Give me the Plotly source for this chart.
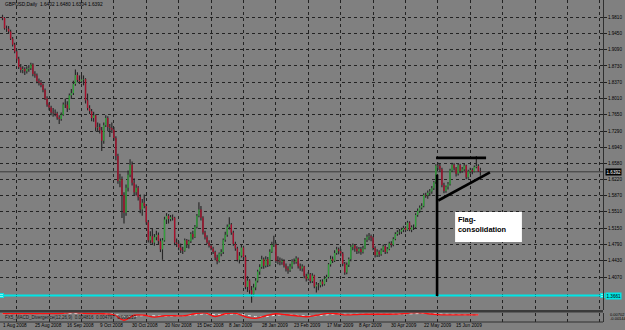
import plotly.graph_objects as go

# ---------------- data ----------------
OPEN = [
1.9810,1.9790,1.9560,1.9550,1.9490,1.9330,1.9200,1.9050,1.8890,1.8700,
1.8640,1.8660,1.8610,1.8660,1.8680,1.8760,1.8550,1.8520,1.8390,1.8360,
1.8310,1.8200,1.8010,1.7870,1.7810,1.7700,1.7690,1.7680,1.7590,1.7560,
1.7650,1.7880,1.7870,1.7790,1.8080,1.8130,1.8330,1.8530,1.8420,1.8390,
1.8430,1.8440,1.7970,1.7800,1.7730,1.7580,1.7640,1.7370,1.7380,1.7310,
1.7080,1.7420,1.7580,1.7380,1.7360,1.7320,1.7140,1.6740,1.6190,1.6230,
1.5880,1.5490,1.6040,1.6330,1.6550,1.6150,1.5940,1.6040,1.5830,1.5560,
1.5710,1.5640,1.5280,1.4880,1.4970,1.4830,1.4950,1.5000,1.4860,1.4680,
1.4880,1.5340,1.5420,1.5350,1.5390,1.5380,1.4830,1.4800,1.4720,1.4660,
1.4650,1.4880,1.4790,1.4860,1.5020,1.4950,1.5180,1.5420,1.5560,1.5380,
1.5050,1.4950,1.4830,1.4760,1.4700,1.4620,1.4500,1.4420,1.4590,1.4620,
1.4890,1.5000,1.5180,1.5230,1.5050,1.4800,1.4700,1.4450,1.4540,1.4720,
1.4510,1.3850,1.3990,1.3780,1.3690,1.3840,1.3990,1.4190,1.4290,1.4460,
1.4320,1.4460,1.4340,1.4630,1.4780,1.4790,1.4430,1.4420,1.4400,1.4430,
1.4320,1.4250,1.4220,1.4300,1.4410,1.4400,1.4480,1.4310,1.4260,1.4300,
1.4090,1.4030,1.4130,1.3980,1.4100,1.3860,1.3900,1.3890,1.3970,1.3910,
1.4030,1.4070,1.4350,1.4470,1.4430,1.4600,1.4680,1.4640,1.4590,1.4360,
1.4170,1.4340,1.4460,1.4740,1.4770,1.4700,1.4640,1.4690,1.4620,1.4700,
1.4890,1.4960,1.4970,1.4940,1.4710,1.4550,1.4630,1.4570,1.4660,1.4750,
1.4620,1.4690,1.4810,1.4780,1.4910,1.5020,1.5060,1.5070,1.5110,1.5150,
1.5110,1.5270,1.5110,1.5170,1.5170,1.5440,1.5530,1.5600,1.5640,1.5880,
1.5870,1.5930,1.5960,1.6030,1.6160,1.6530,1.6520,1.6450,1.6100,1.5970,
1.6060,1.6120,1.6420,1.6550,1.6470,1.6350,1.6540,1.6410,1.6450,1.6530,
1.6270,1.6400,1.6430,1.6400,1.6500,1.6520,1.6402]

HIGH = [
1.9860,1.9810,1.9620,1.9610,1.9530,1.9370,1.9240,1.9100,1.8930,1.8770,
1.8720,1.8700,1.8720,1.8750,1.8800,1.8790,1.8610,1.8560,1.8450,1.8420,
1.8340,1.8230,1.8060,1.7920,1.7850,1.7800,1.7770,1.7720,1.7640,1.7700,
1.7920,1.8010,1.7950,1.8120,1.8220,1.8400,1.8650,1.8590,1.8520,1.8530,
1.8520,1.8460,1.8120,1.7860,1.7780,1.7720,1.7660,1.7480,1.7460,1.7380,
1.7480,1.7640,1.7620,1.7450,1.7480,1.7380,1.7180,1.6790,1.6350,1.6290,
1.5940,1.6110,1.6420,1.6670,1.6620,1.6250,1.6110,1.6080,1.5890,1.5790,
1.5890,1.5680,1.5330,1.5080,1.5130,1.5020,1.5090,1.5050,1.4920,1.4930,
1.5400,1.5480,1.5460,1.5440,1.5450,1.5400,1.4920,1.4860,1.4810,1.4740,
1.4920,1.4910,1.4890,1.5060,1.5090,1.5220,1.5460,1.5720,1.5640,1.5410,
1.5090,1.4990,1.4880,1.4800,1.4740,1.4650,1.4560,1.4610,1.4680,1.4920,
1.5070,1.5230,1.5390,1.5260,1.5090,1.4850,1.4740,1.4620,1.4790,1.4760,
1.4550,1.4090,1.4020,1.3870,1.3920,1.4050,1.4230,1.4350,1.4540,1.4500,
1.4530,1.4510,1.4680,1.4850,1.4980,1.4830,1.4530,1.4500,1.4480,1.4460,
1.4370,1.4310,1.4360,1.4460,1.4480,1.4530,1.4500,1.4370,1.4350,1.4320,
1.4140,1.4180,1.4160,1.4150,1.4120,1.3960,1.3940,1.4010,1.4020,1.4090,
1.4120,1.4380,1.4540,1.4520,1.4660,1.4740,1.4720,1.4690,1.4620,1.4400,
1.4390,1.4500,1.4780,1.4810,1.4800,1.4750,1.4730,1.4730,1.4760,1.4930,
1.5010,1.5040,1.5010,1.4970,1.4750,1.4680,1.4660,1.4700,1.4790,1.4770,
1.4730,1.4850,1.4860,1.4950,1.5060,1.5100,1.5130,1.5160,1.5200,1.5190,
1.5310,1.5300,1.5210,1.5230,1.5480,1.5580,1.5650,1.5700,1.5920,1.5930,
1.5980,1.6010,1.6080,1.6190,1.6560,1.6600,1.6570,1.6480,1.6150,1.6090,
1.6170,1.6460,1.6590,1.6580,1.6500,1.6580,1.6570,1.6500,1.6580,1.6550,
1.6440,1.6480,1.6470,1.6530,1.6740,1.6560,1.6480]

LOW = [
1.9740,1.9530,1.9480,1.9450,1.9300,1.9160,1.9010,1.8850,1.8660,1.8580,
1.8570,1.8530,1.8560,1.8600,1.8640,1.8500,1.8470,1.8350,1.8300,1.8260,
1.8150,1.7980,1.7830,1.7750,1.7640,1.7610,1.7620,1.7540,1.7450,1.7520,
1.7630,1.7800,1.7710,1.7760,1.8000,1.8090,1.8290,1.8370,1.8330,1.8350,
1.8300,1.7900,1.7750,1.7670,1.7510,1.7500,1.7290,1.7280,1.7240,1.6850,
1.7010,1.7380,1.7290,1.7160,1.7250,1.7080,1.6650,1.6130,1.6050,1.5370,
1.5250,1.5420,1.5960,1.6270,1.6090,1.5880,1.5870,1.5760,1.5480,1.5420,
1.5590,1.5230,1.4830,1.4810,1.4780,1.4760,1.4880,1.4790,1.4620,1.4450,
1.4850,1.5240,1.5250,1.5300,1.5320,1.4770,1.4730,1.4660,1.4600,1.4580,
1.4630,1.4710,1.4700,1.4820,1.4900,1.4930,1.5140,1.5390,1.5320,1.5010,
1.4900,1.4800,1.4720,1.4660,1.4580,1.4440,1.4350,1.4390,1.4530,1.4580,
1.4850,1.4960,1.5120,1.5000,1.4760,1.4650,1.4410,1.4370,1.4500,1.4460,
1.3800,1.3740,1.3700,1.3500,1.3640,1.3780,1.3950,1.4120,1.4250,1.4250,
1.4280,1.4290,1.4310,1.4600,1.4730,1.4380,1.4350,1.4330,1.4340,1.4280,
1.4190,1.4140,1.4180,1.4250,1.4350,1.4360,1.4260,1.4210,1.4190,1.4040,
1.3970,1.3990,1.3930,1.3940,1.3820,1.3730,1.3780,1.3840,1.3860,1.3880,
1.3960,1.4040,1.4300,1.4380,1.4400,1.4560,1.4570,1.4530,1.4310,1.4120,
1.4130,1.4290,1.4420,1.4660,1.4630,1.4580,1.4590,1.4560,1.4590,1.4680,
1.4840,1.4880,1.4860,1.4660,1.4500,1.4510,1.4510,1.4540,1.4620,1.4580,
1.4590,1.4660,1.4720,1.4750,1.4880,1.4980,1.5000,1.5020,1.5060,1.5060,
1.5090,1.5080,1.5060,1.5110,1.5150,1.5400,1.5490,1.5560,1.5610,1.5820,
1.5800,1.5860,1.5910,1.5990,1.6130,1.6430,1.6390,1.6050,1.5920,1.5930,
1.6000,1.6090,1.6390,1.6420,1.6290,1.6310,1.6360,1.6370,1.6410,1.6230,
1.6240,1.6350,1.6340,1.6380,1.6470,1.6390,1.6304]

CLOSE = [
1.9790,1.9560,1.9550,1.9490,1.9330,1.9200,1.9050,1.8890,1.8700,1.8640,
1.8660,1.8610,1.8660,1.8680,1.8760,1.8550,1.8520,1.8390,1.8360,1.8310,
1.8200,1.8010,1.7870,1.7810,1.7700,1.7690,1.7680,1.7590,1.7560,1.7650,
1.7880,1.7870,1.7790,1.8080,1.8130,1.8330,1.8530,1.8420,1.8390,1.8430,
1.8440,1.7970,1.7800,1.7730,1.7580,1.7640,1.7370,1.7380,1.7310,1.7080,
1.7420,1.7580,1.7380,1.7360,1.7320,1.7140,1.6740,1.6190,1.6230,1.5880,
1.5490,1.6040,1.6330,1.6550,1.6150,1.5940,1.6040,1.5830,1.5560,1.5710,
1.5640,1.5280,1.4880,1.4970,1.4830,1.4950,1.5000,1.4860,1.4680,1.4880,
1.5340,1.5420,1.5350,1.5390,1.5380,1.4830,1.4800,1.4720,1.4660,1.4650,
1.4880,1.4790,1.4860,1.5020,1.4950,1.5180,1.5420,1.5560,1.5380,1.5050,
1.4950,1.4830,1.4760,1.4700,1.4620,1.4500,1.4420,1.4590,1.4620,1.4890,
1.5000,1.5180,1.5230,1.5050,1.4800,1.4700,1.4450,1.4540,1.4720,1.4510,
1.3850,1.3990,1.3780,1.3690,1.3840,1.3990,1.4190,1.4290,1.4460,1.4320,
1.4460,1.4340,1.4630,1.4780,1.4790,1.4430,1.4420,1.4400,1.4430,1.4320,
1.4250,1.4220,1.4300,1.4410,1.4400,1.4480,1.4310,1.4260,1.4300,1.4090,
1.4030,1.4130,1.3980,1.4100,1.3860,1.3900,1.3890,1.3970,1.3910,1.4030,
1.4070,1.4350,1.4470,1.4430,1.4600,1.4680,1.4640,1.4590,1.4360,1.4170,
1.4340,1.4460,1.4740,1.4770,1.4700,1.4640,1.4690,1.4620,1.4700,1.4890,
1.4960,1.4970,1.4940,1.4710,1.4550,1.4630,1.4570,1.4660,1.4750,1.4620,
1.4690,1.4810,1.4780,1.4910,1.5020,1.5060,1.5070,1.5110,1.5150,1.5110,
1.5270,1.5110,1.5170,1.5170,1.5440,1.5530,1.5600,1.5640,1.5880,1.5870,
1.5930,1.5960,1.6030,1.6160,1.6530,1.6520,1.6450,1.6100,1.5970,1.6060,
1.6120,1.6420,1.6550,1.6470,1.6350,1.6540,1.6410,1.6450,1.6530,1.6270,
1.6400,1.6430,1.6400,1.6500,1.6520,1.6402,1.6392]

DATE_LABELS = ["1 Aug 2008", "25 Aug 2008", "16 Sep 2008", "9 Oct 2008",
               "30 Oct 2008", "20 Nov 2008", "15 Dec 2008", "8 Jan 2009",
               "28 Jan 2009", "23 Feb 2009", "17 Mar 2009", "8 Apr 2009",
               "30 Apr 2009", "22 May 2009", "15 Jun 2009"]
BARS_PER_LABEL = 16

PRICE_TICKS = [1.9810, 1.9450, 1.9090, 1.8730, 1.8370, 1.8010, 1.7650, 1.7290,
               1.6940, 1.6580, 1.6220, 1.5870, 1.5510, 1.5150, 1.4790, 1.4430,
               1.4070, 1.3340]

# oscillator sub-window (sampled every 5 bars)
OSC_STEP = 5
OSC_MAIN = [0.0074,0.0074,0.0074,0.0074,0.0074,0.0074,0.0080,0.0096,0.0080,0.0072,
            0.0070,0.0050,-0.0060,0.0040,0.0040,0.0004,0.0030,0.0030,0.0030,0.0070,
            0.0088,0.0014,0.0070,0.0080,0.0010,-0.0024,0.0030,0.0070,0.0050,0.0030,
            0.0010,0.0040,0.0074,0.0070,0.0048,0.0054,0.0060,0.0060,0.0060,0.0064,
            0.0080,0.0094,0.0070,0.0054,0.0048,0.0048,0.0048,0.0048]
OSC_SIGNAL = [0.0070,0.0072,0.0073,0.0073,0.0073,0.0073,0.0075,0.0082,0.0085,0.0078,
              0.0072,0.0062,0.0020,0.0018,0.0035,0.0025,0.0022,0.0028,0.0030,0.0048,
              0.0070,0.0050,0.0055,0.0068,0.0045,0.0012,0.0010,0.0042,0.0055,0.0042,
              0.0025,0.0030,0.0055,0.0066,0.0058,0.0055,0.0058,0.0060,0.0060,0.0062,
              0.0070,0.0082,0.0078,0.0064,0.0054,0.0050,0.0049,0.0048]

HEADER = "GBPUSD,Daily  1.6402 1.6480 1.6304 1.6392"
OSC_TITLE = "FX5_MACD_Divergence(12,26,9)  0.004816  0.004797  0.000019"
HLINE_PRICE = 1.3661
BID_PRICE = 1.6392

# drawn objects (bar index, price)
FLAG_TOP = [(214.1, 1.6700), (238.8, 1.6700)]
FLAG_LOW = [(215.2, 1.5759), (240.7, 1.6381)]
FLAG_POLE = [(214.6, 1.3650), (214.6, 1.6330)]
NOTE_BOX = [(223.5, 1.4843), (256.5, 1.5505)]
NOTE_TEXT = "Flag-<br>consolidation"

# ---------------- layout geometry ----------------
W, H = 625, 330
PLOT_R = 603
PX_PER_BAR = 2.025
X0_PX = 2.5
x_lo = -X0_PX / PX_PER_BAR
x_hi = x_lo + PLOT_R / PX_PER_BAR
MAIN_BOTTOM_PX = 310
MAIN_RANGE = [1.33414, 2.01853]
SUB_TOP_PX, SUB_BOT_PX = 312.5, 322
BG = "#808080"
FONT = "Liberation Sans"

def py(px):
    return 1 - px / H

n = len(CLOSE)
wx, wy = [], []
ux, uy = [], []
dx, dy = [], []
for i in range(n):
    wx += [i, i, None]
    wy += [LOW[i], HIGH[i], None]
    if CLOSE[i] >= OPEN[i]:
        ux += [i, i, None]
        uy += [OPEN[i], CLOSE[i], None]
    else:
        dx += [i, i, None]
        dy += [OPEN[i], CLOSE[i], None]

fig = go.Figure()
fig.add_trace(go.Scatter(x=wx, y=wy, mode="lines", line=dict(color="#262626", width=1.15),
                         hoverinfo="skip", showlegend=False))
fig.add_trace(go.Scatter(x=ux, y=uy, mode="lines", line=dict(color="#33a03c", width=1.4),
                         hoverinfo="skip", showlegend=False))
fig.add_trace(go.Scatter(x=dx, y=dy, mode="lines", line=dict(color="#a8102c", width=1.4),
                         hoverinfo="skip", showlegend=False))

# horizontal line end markers
fig.add_trace(go.Scatter(x=[x_lo + 1.5 / PX_PER_BAR, x_hi - 0.5 / PX_PER_BAR],
                         y=[HLINE_PRICE, HLINE_PRICE], mode="markers",
                         marker=dict(symbol="square", size=4, color="white",
                                     line=dict(color="#00e0e0", width=1)),
                         hoverinfo="skip", showlegend=False, cliponaxis=False))

osc_x = [k * OSC_STEP for k in range(len(OSC_MAIN))]
fig.add_trace(go.Scatter(x=osc_x, y=OSC_SIGNAL, mode="lines", xaxis="x2", yaxis="y2",
                         line=dict(color="#e8e8e8", width=1, dash="dot"),
                         hoverinfo="skip", showlegend=False))
fig.add_trace(go.Scatter(x=osc_x, y=OSC_MAIN, mode="lines", xaxis="x2", yaxis="y2",
                         line=dict(color="#ff1010", width=1.3, shape="spline"),
                         hoverinfo="skip", showlegend=False))

grid = dict(showgrid=True, gridcolor="#222222", gridwidth=1, griddash="dot")
fig.update_layout(
    width=W, height=H, margin=dict(l=0, r=0, t=0, b=0),
    paper_bgcolor=BG, plot_bgcolor=BG, showlegend=False,
    font=dict(family=FONT, size=5, color="black"),
    xaxis=dict(domain=[0, PLOT_R / W], range=[x_lo, x_hi], anchor="y",
               tickmode="linear", tick0=7, dtick=16, showticklabels=False, ticks="",
               zeroline=False, **grid),
    yaxis=dict(domain=[py(MAIN_BOTTOM_PX), 1], range=MAIN_RANGE, side="right", anchor="x",
               tickmode="array", tickvals=PRICE_TICKS,
               ticktext=[f"{v:.4f}" for v in PRICE_TICKS],
               tickfont=dict(size=4.6, color="black", family=FONT),
               ticks="outside", ticklen=3, tickcolor="#202020",
               showline=True, linecolor="#303030", linewidth=1,
               zeroline=False, **grid),
    xaxis2=dict(domain=[0, PLOT_R / W], range=[x_lo, x_hi], anchor="y2", matches="x",
                tickmode="linear", tick0=7, dtick=16, showticklabels=False, ticks="",
                zeroline=False, **grid),
    yaxis2=dict(domain=[py(SUB_BOT_PX), py(SUB_TOP_PX)], range=[-0.0095, 0.0095],
                side="right", anchor="x2", showticklabels=False, ticks="",
                showgrid=False, zeroline=False,
                showline=True, linecolor="#303030", linewidth=1),
)

shapes = []
# separator between windows
shapes.append(dict(type="rect", xref="paper", yref="paper", x0=0, x1=PLOT_R / W,
                   y0=py(SUB_TOP_PX), y1=py(MAIN_BOTTOM_PX), fillcolor="#3a3a3a",
                   line=dict(width=0), layer="above"))
shapes.append(dict(type="line", xref="paper", yref="paper", x0=0, x1=PLOT_R / W,
                   y0=py(SUB_BOT_PX), y1=py(SUB_BOT_PX), line=dict(color="#303030", width=1)))
# bid line
shapes.append(dict(type="line", xref="paper", yref="y", x0=0, x1=PLOT_R / W,
                   y0=BID_PRICE, y1=BID_PRICE, line=dict(color="#3a3a3a", width=1),
                   layer="below"))
# cyan horizontal line
shapes.append(dict(type="line", xref="paper", yref="y", x0=0, x1=PLOT_R / W,
                   y0=HLINE_PRICE, y1=HLINE_PRICE, line=dict(color="#00e5e5", width=2)))
# flag drawings
for seg in (FLAG_TOP, FLAG_LOW, FLAG_POLE):
    shapes.append(dict(type="line", xref="x", yref="y", x0=seg[0][0], y0=seg[0][1],
                       x1=seg[1][0], y1=seg[1][1], line=dict(color="black", width=2.6)))
shapes.append(dict(type="rect", xref="x", yref="y", x0=NOTE_BOX[0][0], y0=NOTE_BOX[0][1],
                   x1=NOTE_BOX[1][0], y1=NOTE_BOX[1][1], fillcolor="white",
                   line=dict(width=0)))
fig.update_layout(shapes=shapes)

ann = []
ann.append(dict(text=HEADER, xref="paper", yref="paper", x=3 / W, y=py(5),
                xanchor="left", yanchor="middle", showarrow=False,
                font=dict(size=4.8, color="black", family=FONT)))
ann.append(dict(text=OSC_TITLE, xref="paper", yref="paper", x=3 / W, y=py(317),
                xanchor="left", yanchor="middle", showarrow=False,
                font=dict(size=4.5, color="#1a1a1a", family=FONT)))
for k, lab in enumerate(DATE_LABELS):
    ann.append(dict(text=lab, xref="x", yref="paper", x=k * BARS_PER_LABEL, y=py(325.5),
                    xanchor="left", yanchor="middle", showarrow=False, xshift=-2,
                    font=dict(size=4.7, color="black", family=FONT)))
# price boxes on the axis
ann.append(dict(text=f"{BID_PRICE:.4f}", xref="paper", yref="y", x=(PLOT_R + 2) / W,
                y=BID_PRICE, xanchor="left", yanchor="middle", showarrow=False,
                bgcolor="black", borderpad=0.5,
                font=dict(size=4.6, color="white", family=FONT)))
ann.append(dict(text=f"{HLINE_PRICE:.4f}", xref="paper", yref="y", x=(PLOT_R + 2) / W,
                y=HLINE_PRICE, xanchor="left", yanchor="middle", showarrow=False,
                bgcolor="#00e5e5", borderpad=0.5,
                font=dict(size=4.6, color="black", family=FONT)))
ann.append(dict(text="0.00702", xref="paper", yref="paper", x=(PLOT_R + 5) / W,
                y=py(314.5), xanchor="left", yanchor="middle", showarrow=False,
                font=dict(size=4.0, color="black", family=FONT)))
ann.append(dict(text="-0.00144", xref="paper", yref="paper", x=(PLOT_R + 5) / W,
                y=py(318.5), xanchor="left", yanchor="middle", showarrow=False,
                font=dict(size=4.0, color="black", family=FONT)))
ann.append(dict(text="<b>" + NOTE_TEXT.replace("<br>", "</b><br><b>") + "</b>",
                xref="x", yref="y", x=NOTE_BOX[0][0] + 0.3, y=NOTE_BOX[1][1],
                xanchor="left", yanchor="top", align="left", showarrow=False, yshift=-1,
                font=dict(size=7.4, color="black", family=FONT)))
fig.update_layout(annotations=ann)

fig.write_html("out.html")
